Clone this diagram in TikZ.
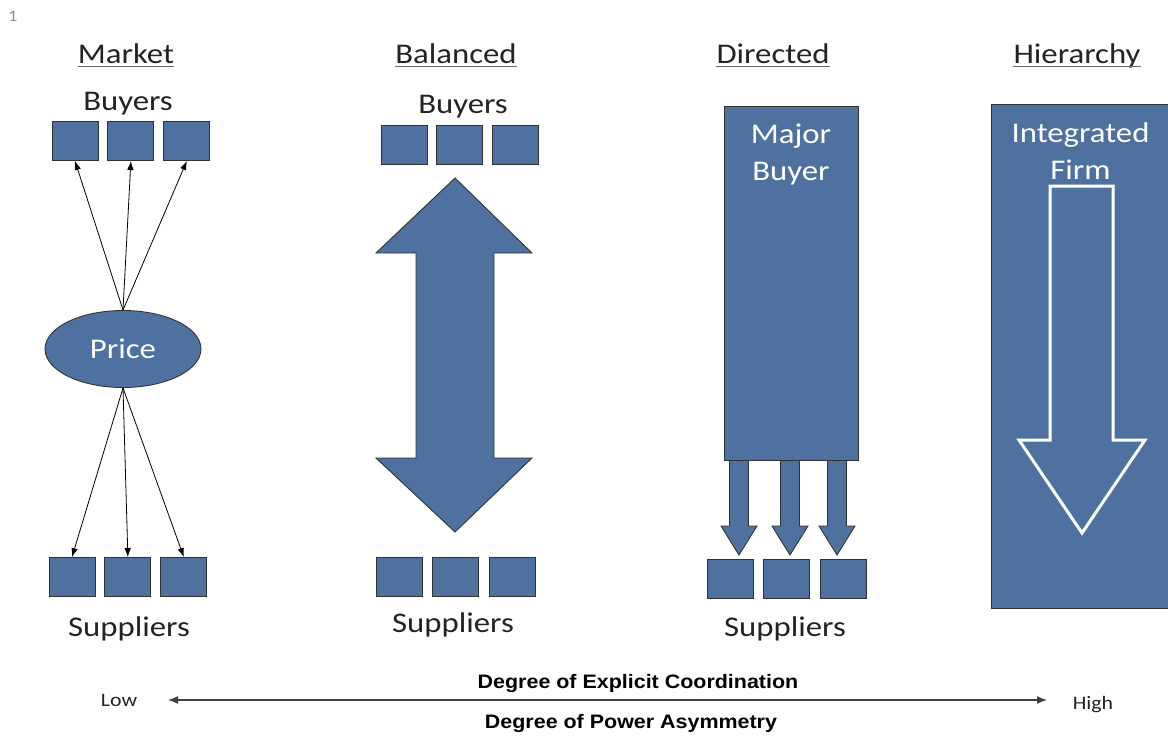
\documentclass[tikz,border=0pt]{standalone}
\usepackage{fontspec}
\setmainfont{Carlito}[FakeStretch=1.15]
\newfontfamily\axisfont{Liberation Sans}[FakeStretch=1.1]
\usetikzlibrary{positioning}
\usetikzlibrary{shapes.geometric}
\usetikzlibrary{arrows.meta}
\definecolor{blockblue}{RGB}{78,113,160}
\definecolor{inkgray}{RGB}{35,35,35}
\tikzstyle{firmbox} = [draw=black!80, fill=blockblue, line width=0.9pt, minimum width=46pt, minimum height=39pt, inner sep=0pt]
\tikzstyle{heading} = [anchor=base, inner sep=0pt, text=inkgray, font=\fontsize{28.5}{34}\selectfont]
\tikzstyle{whitelabel} = [align=center, inner sep=0pt, text=white, font=\fontsize{28.5}{37}\selectfont]
\tikzstyle{blockarrow} = [draw=black!80, fill=blockblue, line width=0.9pt, line join=miter]
\tikzstyle{linkarrow} = [-{Latex[length=9pt,width=6.5pt]}, line width=0.8pt]
\tikzstyle{axislabel} = [anchor=base, inner sep=0pt, font=\axisfont\bfseries\fontsize{19.5}{22}\selectfont]

\begin{document}
\begin{tikzpicture}[x=1pt, y=-1pt]
  \useasboundingbox (0,0) rectangle (1168,736);
  \node[anchor=base west, inner sep=0pt, text=black!45, font=\fontsize{16}{18}\selectfont] (pagenum) at (8,21) {1};

  % column headings
  \node[heading] (market) at (126,63) {Market};
  \node[heading] (balanced) at (456,63) {Balanced};
  \node[heading] (directed) at (773,63) {Directed};
  \node[heading] (hierarchy) at (1077,63) {Hierarchy};
  \foreach \h in {market,balanced,directed,hierarchy}
    \draw[black!60, line width=1.5pt] ([yshift=-3.5pt]\h.base west) -- ([yshift=-3.5pt]\h.base east);

  % market
  \node[heading] (mbuyers) at (128,110) {Buyers};
  \node[firmbox] (mb1) at (75,141) {};
  \node[firmbox, right=9pt of mb1] (mb2) {};
  \node[firmbox, right=9pt of mb2] (mb3) {};
  \node[draw=black!80, fill=blockblue, line width=0.9pt, ellipse, minimum width=156pt, minimum height=77pt, inner sep=0pt, text=white, font=\fontsize{28.5}{34}\selectfont] (price) at (123,349) {Price};
  \node[firmbox] (ms1) at (72,577) {};
  \node[firmbox, right=9pt of ms1] (ms2) {};
  \node[firmbox, right=9pt of ms2] (ms3) {};
  \node[heading] (msuppliers) at (129,636) {Suppliers};
  \foreach \b in {mb1,mb2,mb3}
    \draw[linkarrow] (price.north) -- (\b.south);
  \foreach \s in {ms1,ms2,ms3}
    \draw[linkarrow] (price.south) -- (\s.north);

  % balanced
  \node[heading] (bbuyers) at (463,113) {Buyers};
  \node[firmbox] (bb1) at (404,145) {};
  \node[firmbox, right=9pt of bb1] (bb2) {};
  \node[firmbox, right=9pt of bb2] (bb3) {};
  \draw[blockarrow] (455,178) -- (532,253) -- (494,253) -- (494,458) -- (532,458)
    -- (455,532) -- (376,458) -- (416,458) -- (416,253) -- (376,253) -- cycle;
  \node[firmbox] (bs1) at (399,577) {};
  \node[firmbox, right=10pt of bs1] (bs2) {};
  \node[firmbox, right=10pt of bs2] (bs3) {};
  \node[heading] (bsuppliers) at (453,632) {Suppliers};

  % directed
  \foreach \cx in {739,790,837}
    \draw[blockarrow] (\cx-9.5,458) -- (\cx+9.5,458) -- (\cx+9.5,526) -- (\cx+18,526)
      -- (\cx,555) -- (\cx-18,526) -- (\cx-9.5,526) -- cycle;
  \node[firmbox, minimum width=134pt, minimum height=354pt] (major) at (791,283) {};
  \node[whitelabel, anchor=north, below=18pt of major.north] (majorlabel) {Major\\Buyer};
  \node[firmbox] (ds1) at (730,579) {};
  \node[firmbox, right=10pt of ds1] (ds2) {};
  \node[firmbox, right=10pt of ds2] (ds3) {};
  \node[heading] (dsuppliers) at (785,636) {Suppliers};

  % hierarchy
  \node[firmbox, minimum width=183pt, minimum height=504pt] (firm) at (1082.5,356) {};
  \node[whitelabel, below=19pt of firm.north, xshift=-2pt] (firmlabel) {Integrated\\Firm};
  \draw[white, line width=3pt, line join=miter] (1050,186) -- (1113,186) -- (1113,440) -- (1145,440)
    -- (1082,533) -- (1019,440) -- (1050,440) -- cycle;

  % axis
  \node[anchor=base, inner sep=0pt, text=inkgray, font=\fontsize{19}{22}\selectfont] (low) at (119,706) {Low};
  \node[anchor=base, inner sep=0pt, text=inkgray, font=\fontsize{19}{22}\selectfont] (high) at (1093,709) {High};
  \coordinate (lowend) at (168,700);
  \coordinate (highend) at (1047,700);
  \draw[{Latex[length=10pt,width=8pt]}-{Latex[length=10pt,width=8pt]}, line width=1.4pt, black!75] (lowend) -- (highend);
  \node[axislabel] (coord) at (638,688) {Degree of Explicit Coordination};
  \node[axislabel] (power) at (631,728) {Degree of Power Asymmetry};
\end{tikzpicture}
\end{document}
